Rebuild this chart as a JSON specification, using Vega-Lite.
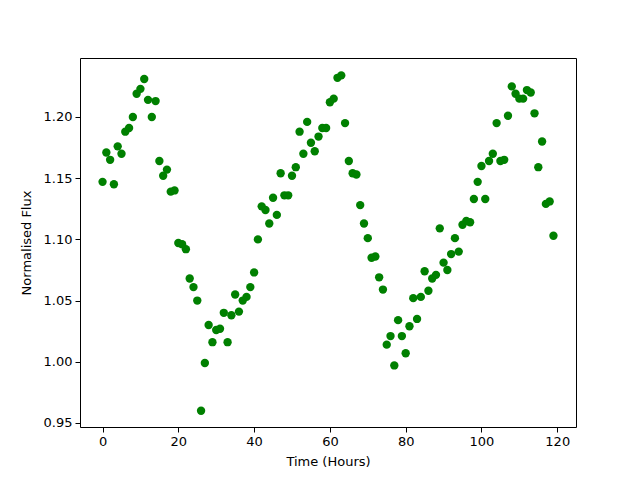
{
  "$schema": "https://vega.github.io/schema/vega-lite/v6.json",
  "width": 496,
  "height": 369,
  "autosize": {"type": "none"},
  "padding": {"left": 80, "top": 58, "right": 64, "bottom": 53},
  "background": "white",
  "config": {
    "view": {"stroke": "black", "strokeWidth": 1},
    "font": "DejaVu Sans",
    "axis": {
      "grid": false,
      "domain": false,
      "tickColor": "black",
      "tickSize": 5,
      "tickWidth": 1,
      "labelFont": "DejaVu Sans",
      "labelFontSize": 13,
      "labelColor": "black",
      "labelPadding": 3,
      "titleFont": "DejaVu Sans",
      "titleFontSize": 13,
      "titleFontWeight": "normal",
      "titleColor": "black"
    }
  },
  "data": {
    "values": [
      {"t":0,"f":1.147},{"t":1,"f":1.171},{"t":2,"f":1.165},{"t":3,"f":1.145},{"t":4,"f":1.176},
      {"t":5,"f":1.170},{"t":6,"f":1.188},{"t":7,"f":1.191},{"t":8,"f":1.200},{"t":9,"f":1.219},
      {"t":10,"f":1.223},{"t":11,"f":1.231},{"t":12,"f":1.214},{"t":13,"f":1.200},{"t":14,"f":1.213},
      {"t":15,"f":1.164},{"t":16,"f":1.152},{"t":17,"f":1.157},{"t":18,"f":1.139},{"t":19,"f":1.140},
      {"t":20,"f":1.097},{"t":21,"f":1.096},{"t":22,"f":1.092},{"t":23,"f":1.068},{"t":24,"f":1.061},
      {"t":25,"f":1.050},{"t":26,"f":0.960},{"t":27,"f":0.999},{"t":28,"f":1.030},{"t":29,"f":1.016},
      {"t":30,"f":1.026},{"t":31,"f":1.027},{"t":32,"f":1.040},{"t":33,"f":1.016},{"t":34,"f":1.038},
      {"t":35,"f":1.055},{"t":36,"f":1.041},{"t":37,"f":1.050},{"t":38,"f":1.053},{"t":39,"f":1.061},
      {"t":40,"f":1.073},{"t":41,"f":1.100},{"t":42,"f":1.127},{"t":43,"f":1.124},{"t":44,"f":1.113},
      {"t":45,"f":1.134},{"t":46,"f":1.120},{"t":47,"f":1.154},{"t":48,"f":1.136},{"t":49,"f":1.136},
      {"t":50,"f":1.152},{"t":51,"f":1.159},{"t":52,"f":1.188},{"t":53,"f":1.170},{"t":54,"f":1.196},
      {"t":55,"f":1.179},{"t":56,"f":1.172},{"t":57,"f":1.184},{"t":58,"f":1.191},{"t":59,"f":1.191},
      {"t":60,"f":1.212},{"t":61,"f":1.215},{"t":62,"f":1.232},{"t":63,"f":1.234},{"t":64,"f":1.195},
      {"t":65,"f":1.164},{"t":66,"f":1.154},{"t":67,"f":1.153},{"t":68,"f":1.128},{"t":69,"f":1.113},
      {"t":70,"f":1.101},{"t":71,"f":1.085},{"t":72,"f":1.086},{"t":73,"f":1.069},{"t":74,"f":1.059},
      {"t":75,"f":1.014},{"t":76,"f":1.021},{"t":77,"f":0.997},{"t":78,"f":1.034},{"t":79,"f":1.021},
      {"t":80,"f":1.007},{"t":81,"f":1.029},{"t":82,"f":1.052},{"t":83,"f":1.035},{"t":84,"f":1.053},
      {"t":85,"f":1.074},{"t":86,"f":1.058},{"t":87,"f":1.068},{"t":88,"f":1.071},{"t":89,"f":1.109},
      {"t":90,"f":1.081},{"t":91,"f":1.075},{"t":92,"f":1.088},{"t":93,"f":1.101},{"t":94,"f":1.090},
      {"t":95,"f":1.112},{"t":96,"f":1.115},{"t":97,"f":1.114},{"t":98,"f":1.133},{"t":99,"f":1.147},
      {"t":100,"f":1.160},{"t":101,"f":1.133},{"t":102,"f":1.164},{"t":103,"f":1.170},{"t":104,"f":1.195},
      {"t":105,"f":1.164},{"t":106,"f":1.165},{"t":107,"f":1.201},{"t":108,"f":1.225},{"t":109,"f":1.219},
      {"t":110,"f":1.215},{"t":111,"f":1.215},{"t":112,"f":1.222},{"t":113,"f":1.220},{"t":114,"f":1.203},
      {"t":115,"f":1.159},{"t":116,"f":1.180},{"t":117,"f":1.129},{"t":118,"f":1.131},{"t":119,"f":1.103}
    ]
  },
  "mark": {"type": "point", "filled": true, "shape": "circle", "size": 70, "color": "#008000", "opacity": 1},
  "encoding": {
    "x": {
      "field": "t", "type": "quantitative",
      "scale": {"domain": [-5.95, 124.95], "nice": false, "zero": false},
      "axis": {"title": "Time (Hours)", "values": [0, 20, 40, 60, 80, 100, 120], "format": "d", "titlePadding": 7}
    },
    "y": {
      "field": "f", "type": "quantitative",
      "scale": {"domain": [0.9467, 1.2482], "nice": false, "zero": false},
      "axis": {"title": "Normalised Flux", "values": [0.95, 1.0, 1.05, 1.1, 1.15, 1.2], "format": ".2f", "titlePadding": 10}
    }
  }
}
